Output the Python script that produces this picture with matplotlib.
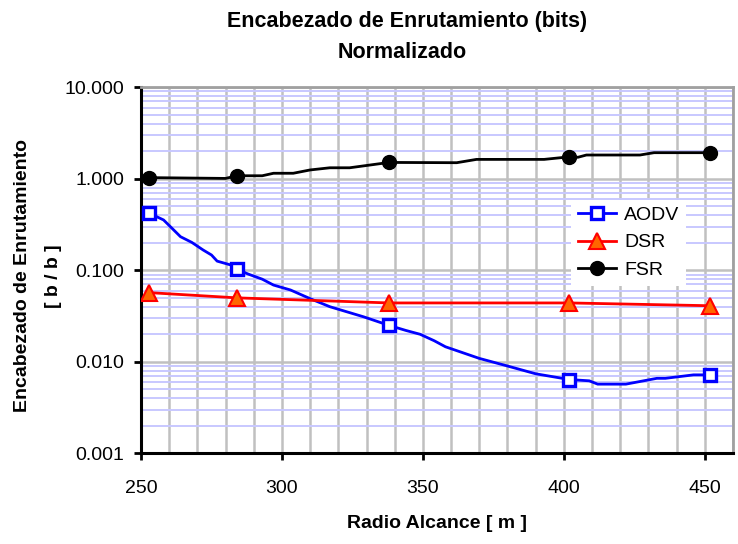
import matplotlib
matplotlib.use("Agg")
import matplotlib.pyplot as plt
from matplotlib.ticker import LogLocator, MultipleLocator, FuncFormatter, NullFormatter

plt.rcParams['font.family'] = ['Liberation Sans', 'DejaVu Sans']

# marker positions (radio alcance, m)
x_marks = [253, 284, 338, 402, 452]

# dense curves
aodv_x = [253, 258, 264, 268, 272, 275, 277, 282, 284, 288, 293, 297, 303, 310, 317,
          329, 338, 344, 349, 354, 358, 370, 380, 390, 402, 409, 412, 422, 433, 436, 446, 452]
aodv_y = [0.42, 0.355, 0.233, 0.202, 0.167, 0.147, 0.126, 0.114, 0.103, 0.091, 0.080,
          0.069, 0.061, 0.049, 0.040, 0.031, 0.025, 0.022, 0.020, 0.017, 0.0146, 0.0109,
          0.0090, 0.0074, 0.0064, 0.0062, 0.0057, 0.0057, 0.0066, 0.0066, 0.0072, 0.0072]

dsr_x = [253, 284, 338, 402, 452]
dsr_y = [0.057, 0.050, 0.044, 0.044, 0.041]

fsr_x = [253, 280, 284, 293, 297, 304, 310, 317, 324, 338, 362, 369, 393, 402, 405,
         408, 427, 432, 452]
fsr_y = [1.03, 1.01, 1.08, 1.08, 1.15, 1.15, 1.25, 1.32, 1.32, 1.51, 1.50, 1.63, 1.63,
         1.74, 1.72, 1.82, 1.82, 1.93, 1.93]

fig = plt.figure(figsize=(7.38, 5.44), dpi=100)
ax = fig.add_axes([0.1911, 0.1667, 0.8021, 0.6728])

ax.plot(aodv_x, aodv_y, color='#0000FF', lw=2, marker='s', ms=8.5,
        mfc='white', mec='#0000FF', mew=2.4,
        markevery=[aodv_x.index(v) for v in x_marks], label='AODV', zorder=3)
ax.plot(dsr_x, dsr_y, color='#FF0000', lw=2, marker='^', ms=11,
        mfc='#FF6600', mec='#FF0000', mew=1.5, label='DSR', zorder=4)
ax.plot(fsr_x, fsr_y, color='black', lw=2, marker='o', ms=10,
        mfc='black', mec='black',
        markevery=[fsr_x.index(v) for v in x_marks], label='FSR', zorder=5)

ax.set_yscale('log')
ax.set_ylim(0.001, 10)
ax.set_xlim(250, 460)

ax.xaxis.set_major_locator(MultipleLocator(50))
ax.xaxis.set_minor_locator(MultipleLocator(10))
ax.yaxis.set_major_locator(LogLocator(base=10, numticks=10))
ax.yaxis.set_minor_locator(LogLocator(base=10, subs=range(2, 10), numticks=20))
ax.yaxis.set_major_formatter(FuncFormatter(lambda v, p: f'{v:.3f}'))
ax.yaxis.set_minor_formatter(NullFormatter())

ax.grid(which='minor', axis='y', color='#C8C8FF', lw=1.4, zorder=0)
ax.grid(which='major', axis='y', color='#C0C0C0', lw=1.8, zorder=1)
ax.grid(which='both', axis='x', color='#C0C0C0', lw=1.8, zorder=1)
ax.set_axisbelow(True)

ax.tick_params(which='major', direction='out', length=5, width=2, color='black',
               labelsize=14)
ax.tick_params(axis='y', which='major', pad=7)
ax.tick_params(axis='x', which='major', pad=14)
ax.tick_params(which='minor', length=0)

for side in ['left', 'bottom']:
    ax.spines[side].set_color('black')
    ax.spines[side].set_linewidth(2.2)
for side in ['top', 'right']:
    ax.spines[side].set_color('#A0A0A0')
    ax.spines[side].set_linewidth(2)

fig.text(407 / 738, 1 - 22 / 544, 'Encabezado de Enrutamiento (bits)', ha='center',
         va='center', fontsize=15.5, fontweight='bold')
fig.text(402 / 738, 1 - 52 / 544, 'Normalizado', ha='center', va='center',
         fontsize=15.5, fontweight='bold')

fig.text(437 / 738, 1 - 523 / 544, 'Radio Alcance [ m ]', ha='center', va='center',
         fontsize=14, fontweight='bold')
fig.text(23 / 738, 1 - 276 / 544, 'Encabezado de Enrutamiento', ha='center', va='center',
         rotation=90, fontsize=14, fontweight='bold')
fig.text(53 / 738, 1 - 276 / 544, '[ b / b ]', ha='center', va='center',
         rotation=90, fontsize=14, fontweight='bold')

leg = ax.legend(loc='upper left', bbox_to_anchor=(561 / 738, 1 - 190 / 544),
                bbox_transform=fig.transFigure, fontsize=14, frameon=True,
                fancybox=False, framealpha=1, edgecolor='white', handlelength=2.0,
                handletextpad=0.4, borderpad=0.35, labelspacing=0.5)
leg.get_frame().set_linewidth(0)

fig.savefig('out.png', dpi=100)
